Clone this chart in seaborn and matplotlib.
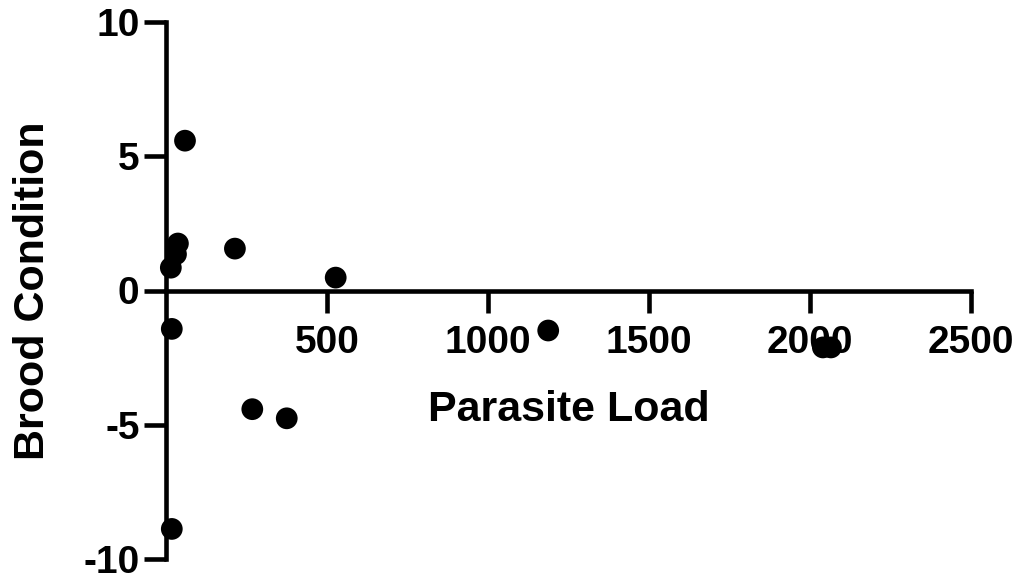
import matplotlib
matplotlib.use("Agg")
import matplotlib.pyplot as plt
import seaborn as sns
import pandas as pd

# Data
parasite_load = [59, 37, 31, 15, 214, 527, 18, 268, 375, 18, 1187, 2040, 2065]
brood_condition = [5.58, 1.75, 1.35, 0.85, 1.56, 0.48, -1.43, -4.42, -4.76, -8.88, -1.49, -2.12, -2.12]
x_ticks = [500, 1000, 1500, 2000, 2500]
y_ticks = [-10, -5, 0, 5, 10]

df = pd.DataFrame({"Parasite Load": parasite_load, "Brood Condition": brood_condition})

sns.set_style("white")
plt.rcParams['font.family'] = ['Liberation Sans', 'DejaVu Sans']
plt.rcParams['text.color'] = 'black'
plt.rcParams['xtick.color'] = 'black'
plt.rcParams['ytick.color'] = 'black'
plt.rcParams['axes.labelcolor'] = 'black'

W, H = 1021, 579
fig = plt.figure(figsize=(W / 100, H / 100), dpi=100)
left, right, top, bottom = 166, 971, 22, 559
ax = fig.add_axes([left / W, (H - bottom) / H, (right - left) / W, (bottom - top) / H])

sns.scatterplot(data=df, x="Parasite Load", y="Brood Condition", ax=ax,
                color="black", s=245, edgecolor="none", linewidth=0, clip_on=False, zorder=3)

ax.set_xlim(0, 2500)
ax.set_ylim(-10, 10)
ax.spines['left'].set_position(('data', 0))
ax.spines['bottom'].set_position(('data', 0))
ax.spines['top'].set_visible(False)
ax.spines['right'].set_visible(False)
for s in ['left', 'bottom']:
    ax.spines[s].set_linewidth(3.3)
    ax.spines[s].set_color('black')

ax.set_xticks(x_ticks)
ax.set_yticks(y_ticks)
ax.set_xticklabels([str(t) for t in x_ticks], fontsize=28, fontweight='bold')
ax.set_yticklabels([str(t) for t in y_ticks], fontsize=28, fontweight='bold')
ax.tick_params(axis='both', direction='out', length=16, width=3.3, color='black',
               bottom=True, left=True)
ax.tick_params(axis='x', pad=9)
ax.tick_params(axis='y', pad=3)

ax.set_xlabel("Parasite Load", fontsize=31, fontweight='bold')
ax.set_ylabel("Brood Condition", fontsize=31, fontweight='bold')
ax.xaxis.set_label_coords(0.5, 0.315)
ax.yaxis.set_label_coords(-0.14, 0.5)
ax.patch.set_alpha(0)

fig.savefig("out.png", dpi=100)
